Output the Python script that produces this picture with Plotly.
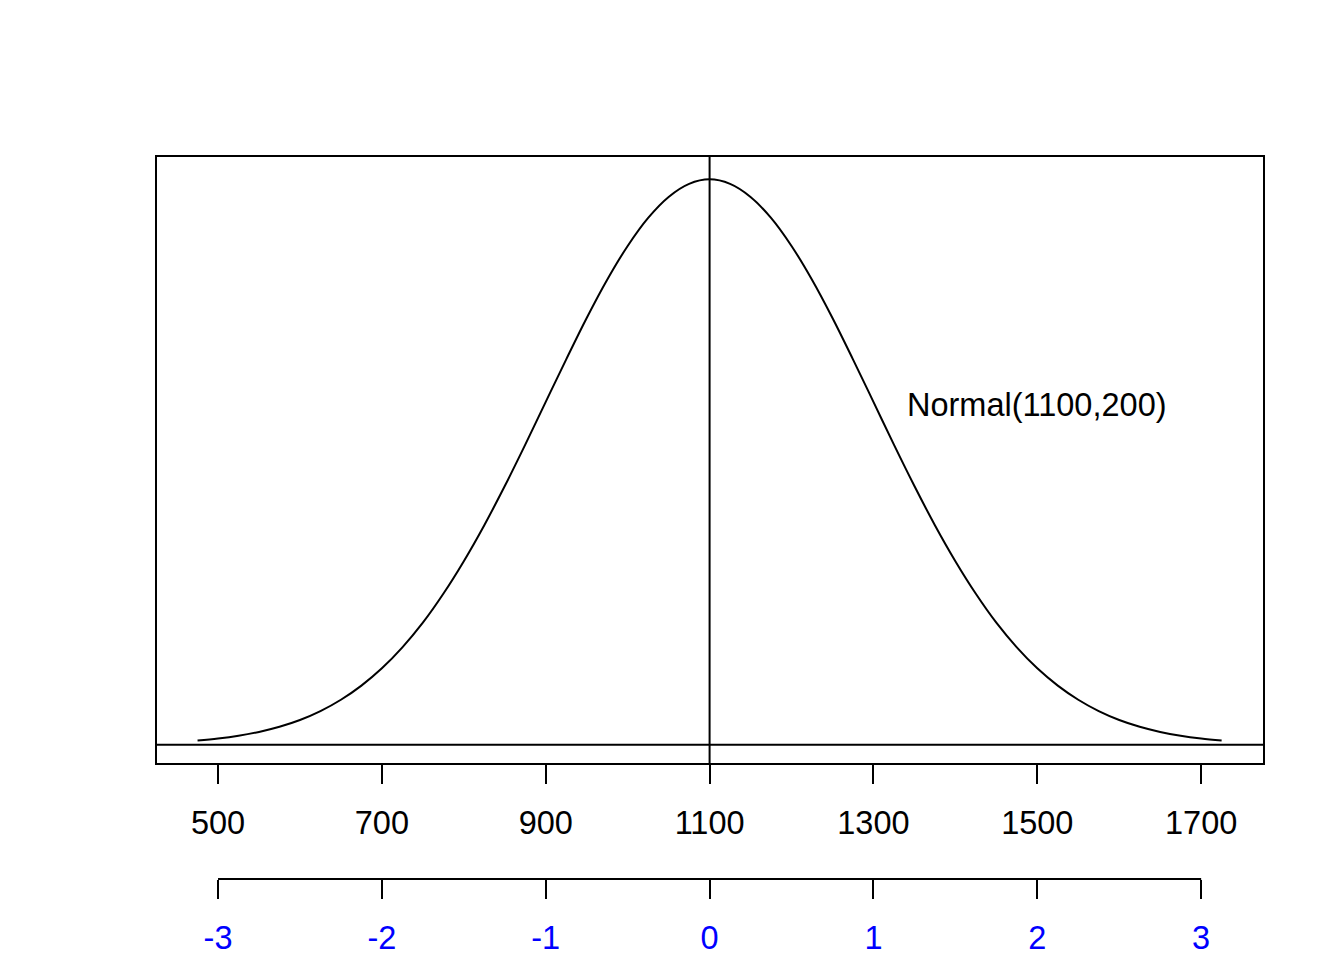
import plotly.graph_objects as go

# density curve values (x in original units)
x_vals = [475, 500, 525, 550, 575, 600, 625, 650, 675, 700, 725, 750, 775, 800, 825,
          850, 875, 900, 925, 950, 975, 1000, 1025, 1050, 1075, 1100, 1125, 1150, 1175,
          1200, 1225, 1250, 1275, 1300, 1325, 1350, 1375, 1400, 1425, 1450, 1475, 1500,
          1525, 1550, 1575, 1600, 1625, 1650, 1675, 1700, 1725]
half = [0.0000151, 0.0000222, 0.0000320, 0.0000455, 0.0000637, 0.0000876, 0.000119,
        0.000159, 0.000209, 0.000270, 0.000344, 0.000431, 0.000533, 0.000648, 0.000775,
        0.000913, 0.001059, 0.001210, 0.001360, 0.001506, 0.001641, 0.001760, 0.001859,
        0.001933, 0.001979]
peak = [0.001995]
y_vals = half + peak + half[::-1]

x_ticks = [500, 700, 900, 1100, 1300, 1500, 1700]
z_ticks = [-3, -2, -1, 0, 1, 2, 3]
z_labels = ["-3", "-2", "-1", "0", "1", "2", "3"]
mean, sd = 1100, 200
label_text = "Normal(1100,200)"
label_x, label_y = 1500, 0.0012

FONT = "Liberation Sans, Arial, sans-serif"
FS = 32.5

xr = [425.5, 1775.5]
yr = [-0.0000641, 0.0020739]

fig = go.Figure()
fig.add_trace(go.Scatter(x=x_vals, y=y_vals, mode="lines", line_shape="spline",
                         line=dict(color="black", width=2), showlegend=False,
                         hoverinfo="skip"))
# dummy trace to activate the second x axis
fig.add_trace(go.Scatter(x=[(v - mean) / sd for v in xr], y=[None, None], xaxis="x2",
                         mode="lines", showlegend=False, hoverinfo="skip"))

fig.add_hline(y=0, line=dict(color="black", width=2))
fig.add_vline(x=mean, line=dict(color="black", width=2))

fig.add_annotation(x=label_x, y=label_y, text=label_text, showarrow=False,
                   font=dict(family=FONT, size=FS, color="black"))

# second (z) axis line only between the first and last tick
pos2 = (900 - 879) / 743
fig.add_shape(type="line", xref="x2", yref="paper", x0=min(z_ticks), x1=max(z_ticks),
              y0=pos2, y1=pos2, line=dict(color="black", width=2))

fig.update_layout(
    width=1344, height=960,
    margin=dict(l=149, r=89, t=149, b=68),
    plot_bgcolor="white", paper_bgcolor="white",
    font=dict(family=FONT, size=FS, color="black"),
    xaxis=dict(range=xr, tickvals=x_ticks, ticks="outside", ticklen=19, tickwidth=2,
               tickcolor="black", showline=True, linecolor="black", linewidth=2,
               mirror=True, showgrid=False, zeroline=False, ticklabelstandoff=11,
               tickfont=dict(size=FS, color="black")),
    xaxis2=dict(range=[(v - mean) / sd for v in xr], overlaying="x", anchor="free",
                position=pos2, side="bottom", tickvals=z_ticks, ticktext=z_labels,
                ticks="outside", ticklen=19, tickwidth=2, tickcolor="black",
                showline=False, showgrid=False, zeroline=False, ticklabelstandoff=11,
                tickfont=dict(size=FS, color="blue")),
    yaxis=dict(range=yr, domain=[(900 - 763) / 743, 1], showticklabels=False,
               ticks="", showline=True, linecolor="black", linewidth=2, mirror=True,
               showgrid=False, zeroline=False),
)

fig.write_html("out.html")
